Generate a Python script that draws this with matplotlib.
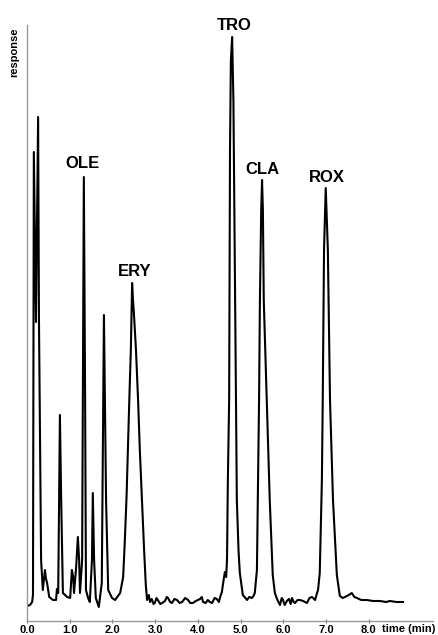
import numpy as np
import matplotlib
matplotlib.use("Agg")
import matplotlib.pyplot as plt


plt.rcParams['font.family'] = ['Liberation Sans', 'DejaVu Sans']
plt.rcParams['font.weight'] = 'bold'

# Chromatogram trace: retention time (min) and detector response
time_min = [0.00, 0.07, 0.12, 0.14, 0.16, 0.21, 0.26, 0.28, 0.33, 0.37,
            0.42, 0.44, 0.47, 0.52, 0.61, 0.68, 0.70, 0.73, 0.75, 0.77,
            0.80, 0.84, 0.94, 1.01, 1.05, 1.08, 1.10, 1.15, 1.19, 1.22,
            1.24, 1.29, 1.33, 1.36, 1.38, 1.43, 1.47, 1.52, 1.54, 1.57,
            1.61, 1.68, 1.75, 1.80, 1.85, 1.90, 1.99, 2.06, 2.13, 2.18,
            2.25, 2.29, 2.33, 2.36, 2.40, 2.43, 2.46, 2.48, 2.50, 2.55,
            2.60, 2.64, 2.70, 2.74, 2.78, 2.81, 2.85, 2.88, 2.92, 2.96,
            2.99, 3.03, 3.06, 3.12, 3.16, 3.23, 3.27, 3.30, 3.35, 3.39,
            3.45, 3.51, 3.57, 3.63, 3.70, 3.77, 3.82, 3.88, 3.95, 4.05,
            4.09, 4.12, 4.18, 4.23, 4.28, 4.33, 4.39, 4.44, 4.49, 4.52,
            4.56, 4.59, 4.63, 4.66, 4.68, 4.70, 4.73, 4.75, 4.77, 4.80,
            4.83, 4.84, 4.89, 4.91, 4.95, 4.98, 5.05, 5.15, 5.20, 5.26,
            5.30, 5.33, 5.38, 5.40, 5.43, 5.45, 5.48, 5.50, 5.52, 5.54,
            5.61, 5.68, 5.75, 5.80, 5.85, 5.92, 5.96, 5.99, 6.03, 6.08,
            6.13, 6.17, 6.20, 6.24, 6.27, 6.33, 6.39, 6.46, 6.55, 6.61,
            6.67, 6.74, 6.78, 6.81, 6.85, 6.90, 6.92, 6.95, 6.99, 7.04,
            7.09, 7.16, 7.25, 7.32, 7.39, 7.44, 7.53, 7.60, 7.66, 7.72,
            7.82, 7.95, 8.10, 8.26, 8.40, 8.49, 8.65, 8.80]

response = [15, 16, 19, 26, 469, 299, 504, 301, 61, 31,
            51, 43, 38, 24, 21, 21, 32, 28, 121, 206,
            121, 28, 24, 23, 51, 44, 28, 54, 84, 61,
            28, 61, 444, 221, 31, 23, 19, 61, 128, 61,
            23, 14, 38, 306, 121, 31, 23, 21, 25, 28,
            44, 81, 125, 171, 230, 271, 338, 321, 309, 271,
            220, 171, 110, 71, 36, 21, 26, 19, 22, 17,
            18, 23, 21, 17, 18, 20, 24, 23, 19, 18,
            22, 21, 18, 19, 23, 21, 18, 18, 20, 22,
            24, 19, 18, 21, 19, 18, 23, 22, 19, 24,
            29, 38, 49, 44, 61, 141, 221, 471, 560, 584,
            520, 471, 221, 121, 70, 48, 26, 21, 24, 23,
            25, 28, 51, 121, 221, 321, 410, 441, 410, 321,
            221, 121, 46, 28, 22, 16, 23, 21, 16, 20,
            22, 17, 23, 19, 18, 21, 21, 20, 18, 23,
            24, 21, 27, 31, 48, 141, 221, 371, 433, 371,
            221, 121, 46, 25, 23, 24, 26, 28, 24, 23,
            21, 21, 20, 20, 19, 20, 19, 19]

# Labelled analyte peaks
peak_names = ['OLE', 'ERY', 'TRO', 'CLA', 'ROX']
peak_times = [1.33, 2.46, 4.80, 5.50, 6.99]
peak_heights = [444, 338, 584, 441, 433]
label_offsets = [(-1, 13), (3, 12), (2, 12), (0, 11), (1, 11)]

tick_values = [0, 1, 2, 3, 4, 5, 6, 7, 8]
tick_labels = ['0.0', '1.0', '2.0', '3.0', '4.0', '5.0', '6.0', '7.0', '8.0']


fig = plt.figure(figsize=(4.38, 6.35), dpi=100)
ax = fig.add_axes([27 / 438, 14 / 635, 406 / 438, 596 / 635])

ax.plot(time_min, response, color='black', linewidth=1.5)

# peak names above each apex
for name, t, h, off in zip(peak_names, peak_times, peak_heights, label_offsets):
    ax.annotate(name, xy=(t, h), xytext=off, textcoords='offset pixels',
                ha='center', va='center', fontsize=12, fontweight='bold',
                annotation_clip=False)

ax.set_xlim(0, 9.5)
ax.set_ylim(0, 596)

for side in ['top', 'right']:
    ax.spines[side].set_visible(False)
for side in ['left', 'bottom']:
    ax.spines[side].set_color('#9a9a9a')
    ax.spines[side].set_linewidth(1.0)

ax.set_yticks([])
ax.set_xticks(tick_values)
ax.set_xticklabels(tick_labels, fontsize=8, fontweight='bold')
ax.tick_params(axis='x', direction='inout', length=3, width=0.8,
               color='#777777', pad=1.5)

fig.text(14 / 438, 1 - 52 / 635, 'response', rotation=90, ha='center',
         va='center', fontsize=8, fontweight='bold')
fig.text(409 / 438, 1 - 629 / 635, 'time (min)', ha='center', va='center',
         fontsize=8, fontweight='bold')

fig.savefig('out.png', dpi=100)
